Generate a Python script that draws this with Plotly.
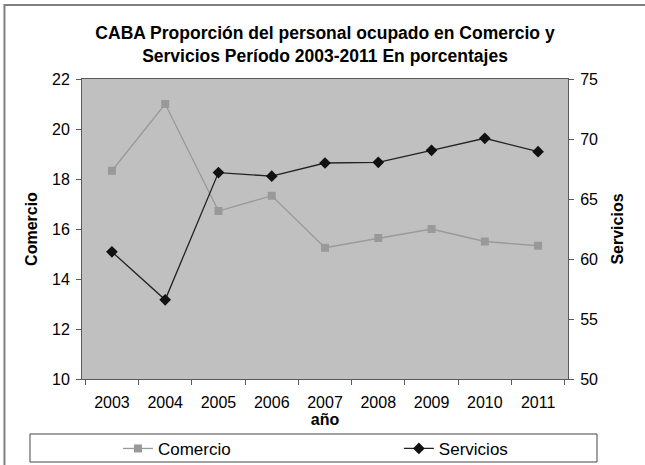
import plotly.graph_objects as go

years = ["2003", "2004", "2005", "2006", "2007", "2008", "2009", "2010", "2011"]
comercio = [18.33, 21.0, 16.72, 17.33, 15.25, 15.64, 16.0, 15.5, 15.33]
servicios = [60.6, 56.6, 67.2, 66.9, 68.0, 68.06, 69.06, 70.06, 68.94]

FONT = "Liberation Sans, Arial, sans-serif"
AX = "#5a5a5a"

fig = go.Figure()
fig.add_trace(go.Scatter(
    x=years, y=comercio, name="Comercio", mode="lines+markers",
    line=dict(color="#999999", width=1.3),
    marker=dict(symbol="square", size=8, color="#999999"),
    yaxis="y", xaxis="x", legend="legend"))
fig.add_trace(go.Scatter(
    x=years, y=servicios, name="Servicios", mode="lines+markers",
    line=dict(color="#222222", width=1.3),
    marker=dict(symbol="diamond", size=9, color="#111111"),
    yaxis="y2", xaxis="x", legend="legend2"))

leg_common = dict(orientation="h", xanchor="left", yanchor="middle",
                  font=dict(size=17), bgcolor="rgba(0,0,0,0)", borderwidth=0)

fig.update_layout(
    width=645, height=465,
    margin=dict(l=82, r=77, t=79, b=86, autoexpand=False),
    paper_bgcolor="white", plot_bgcolor="#C0C0C0",
    font=dict(family=FONT, color="black", size=16),
    title=dict(
        text="<b>CABA Proporción del personal ocupado en Comercio y<br>Servicios Período 2003-2011 En porcentajes</b>",
        x=0.5, xref="paper", xanchor="center",
        y=0.916, yref="container", yanchor="top",
        font=dict(size=17.5, family=FONT, color="black")),
    xaxis=dict(
        type="category", categoryorder="array", categoryarray=years,
        tickson="boundaries", ticks="outside", ticklen=5, tickcolor=AX,
        showline=True, linecolor=AX, linewidth=1, mirror=True,
        showgrid=False, zeroline=False, automargin=False,
        tickfont=dict(size=16), ticklabelstandoff=9,
        title=dict(text="<b>año</b>", font=dict(size=16), standoff=1)),
    xaxis2=dict(
        overlaying="x", anchor="y", range=[-0.5, 8.5], tick0=-0.5, dtick=1,
        ticks="inside", ticklen=5, tickcolor=AX, showticklabels=False,
        showline=False, showgrid=False, zeroline=False),
    yaxis=dict(
        range=[10, 22], dtick=2, ticks="outside", ticklen=5, tickcolor=AX,
        showline=True, linecolor=AX, linewidth=1, mirror=True,
        showgrid=False, zeroline=False, tickfont=dict(size=16),
        ticklabelstandoff=3, automargin=False,
        title=dict(text="<b>Comercio</b>", font=dict(size=16), standoff=10)),
    yaxis2=dict(
        overlaying="y", side="right", anchor="x", range=[50, 75], dtick=5,
        ticks="outside", ticklen=5, tickcolor=AX,
        showline=True, linecolor=AX, linewidth=1,
        showgrid=False, zeroline=False, tickfont=dict(size=16),
        ticklabelstandoff=3, automargin=False,
        title=dict(text="<b>Servicios</b>", font=dict(size=16), standoff=14)),
    yaxis3=dict(
        overlaying="y", anchor="x", range=[10, 22], dtick=2,
        ticks="inside", ticklen=5, tickcolor=AX, showticklabels=False,
        showline=False, showgrid=False, zeroline=False),
    yaxis4=dict(
        overlaying="y", side="right", anchor="x", range=[50, 75], dtick=5,
        ticks="inside", ticklen=5, tickcolor=AX, showticklabels=False,
        showline=False, showgrid=False, zeroline=False),
    legend=dict(x=0.074, y=-0.233, **leg_common),
    legend2=dict(x=0.652, y=-0.233, **leg_common),
    shapes=[
        dict(type="rect", xref="paper", yref="paper",
             x0=-0.107, x1=1.0597, y0=-0.2767, y1=-0.1833,
             line=dict(color="#444444", width=1), layer="above"),
        dict(type="rect", xref="paper", yref="paper",
             x0=-0.1595, x1=1.2, y0=-0.35, y1=1.2467,
             line=dict(color="#7f7f7f", width=2), layer="above"),
    ],
    showlegend=True,
)

fig.write_html("out.html", config={"displayModeBar": False},
               post_script="document.body.style.margin='0';")
